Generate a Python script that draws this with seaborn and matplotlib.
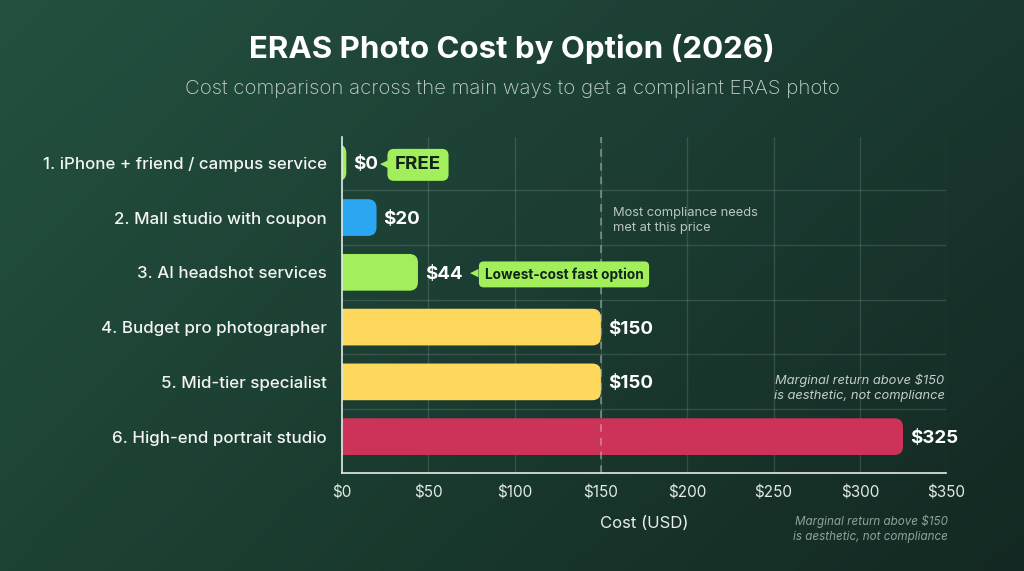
import numpy as np
import pandas as pd
import matplotlib
matplotlib.use("Agg")
import matplotlib.pyplot as plt
import seaborn as sns
from matplotlib.patches import FancyBboxPatch


# data
options = [
    "1. iPhone + friend / campus service",
    "2. Mall studio with coupon",
    "3. AI headshot services",
    "4. Budget pro photographer",
    "5. Mid-tier specialist",
    "6. High-end portrait studio",
]
costs = [0, 20, 44, 150, 150, 325]
value_labels = ["$0", "$20", "$44", "$150", "$150", "$325"]
bar_colors = ["#a3ee5b", "#2ba7f2", "#a3ee5b", "#fdd85c", "#fdd85c", "#cd3259"]
x_ticks = [0, 50, 100, 150, 200, 250, 300, 350]
x_tick_labels = ["$0", "$50", "$100", "$150", "$200", "$250", "$300", "$350"]
threshold = 150

callout_rows = [0, 2]
callout_texts = ["FREE", "Lowest-cost fast option"]

title = "ERAS Photo Cost by Option (2026)"
subtitle = "Cost comparison across the main ways to get a compliant ERAS photo"
note_threshold = "Most compliance needs\nmet at this price"
note_marginal = "Marginal return above $150\nis aesthetic, not compliance"

df = pd.DataFrame({"option": options, "cost": costs})

sns.set_theme(style="white")
plt.rcParams["font.family"] = ["Inter", "DejaVu Sans"]

fig = plt.figure(figsize=(10.24, 5.71), dpi=100)

# background gradient
bg = fig.add_axes([0, 0, 1, 1], zorder=-10)
tl = np.array([0x24, 0x51, 0x40]) / 255
tr = np.array([0x1a, 0x38, 0x30]) / 255
bl = np.array([0x1d, 0x43, 0x34]) / 255
br = np.array([0x13, 0x28, 0x22]) / 255
u = np.linspace(0, 1, 256)[None, :, None]
v = np.linspace(0, 1, 144)[:, None, None]
grad = (1 - v) * ((1 - u) * tl + u * tr) + v * ((1 - u) * bl + u * br)
bg.imshow(grad, aspect="auto", extent=[0, 1, 0, 1], interpolation="bicubic")
bg.axis("off")

ax = fig.add_axes([0.334, 0.172, 0.590, 0.588])
ax.set_facecolor("none")

sns.barplot(
    data=df, x="cost", y="option", hue="option", palette=bar_colors,
    legend=False, width=0.67, ax=ax, saturation=1,
)

ax.set_xlim(0, 350)
ax.set_ylim(5.66, -0.47)

# swap the plain bars for rounded ones
px_per_x = 604 / 350
px_per_y = 54.8
for patch in list(ax.patches):
    x0, y0 = patch.get_x(), patch.get_y()
    w, h = patch.get_width(), patch.get_height()
    color = patch.get_facecolor()
    patch.remove()
    r = 5.0
    fb = FancyBboxPatch(
        (x0 - 2 * r, y0), max(w, 2.5) + 2 * r, h,
        boxstyle=f"round,pad=0,rounding_size={r}",
        mutation_aspect=px_per_x / px_per_y,
        facecolor=color, edgecolor="none", zorder=3,
    )
    ax.add_patch(fb)

# grid
for k in range(len(options) - 1):
    ax.axhline(k + 0.5, color="#ffffff", alpha=0.13, lw=1, zorder=1)
for t in x_ticks[1:]:
    ax.axvline(t, color="#ffffff", alpha=0.13, lw=1, zorder=1)
ax.axvline(threshold, color="#c9d3ce", alpha=0.55, lw=1.1, ls=(0, (5, 4)), zorder=4)

for s in ["top", "right"]:
    ax.spines[s].set_visible(False)
for s in ["left", "bottom"]:
    ax.spines[s].set_color("#e4ece8")
    ax.spines[s].set_linewidth(1.2)
    ax.spines[s].set_zorder(5)

ax.set_xticks(x_ticks)
ax.set_xticklabels(x_tick_labels)
ax.tick_params(axis="x", colors="#e2e9e5", labelsize=11, length=0, pad=9)
ax.tick_params(axis="y", colors="#f2f5f3", labelsize=12.2, length=0, pad=11)
for lab in ax.get_yticklabels():
    lab.set_fontweight("medium")
ax.set_ylabel("")
ax.set_xlabel("Cost (USD)", color="#e8eeeb", fontsize=12, labelpad=11)

# value labels
for i, (c, lab) in enumerate(zip(costs, value_labels)):
    ax.annotate(lab, xy=(max(c, 2.5), i), xytext=(5, -1.5), textcoords="offset points",
                va="center", ha="left", color="white", fontsize=13.5,
                fontweight="bold", zorder=6)

# callouts
callout_style = [
    dict(offset=35, size=13.5, pad=0.4),
    dict(offset=48, size=9.8, pad=0.42),
]
for row, txt, st in zip(callout_rows, callout_texts, callout_style):
    c = max(costs[row], 2.5)
    ax.annotate(txt, xy=(c, row), xytext=(st["offset"], -1.5), textcoords="offset points",
                va="center", ha="left", color="#10261a", fontsize=st["size"],
                fontweight="bold", zorder=7,
                bbox=dict(boxstyle=f"round,pad={st['pad']},rounding_size=0.35",
                          fc="#a3ee5b", ec="none"))
    ax.annotate("\u25C0", xy=(c, row), xytext=(st["offset"] - 10.5, -0.5),
                textcoords="offset points", va="center", ha="left",
                color="#a3ee5b", fontsize=8, family="DejaVu Sans", zorder=7)

ax.text(threshold + 7, 1.06, note_threshold, color="#b9c6c0", fontsize=9.3,
        va="center", ha="left", linespacing=1.35, zorder=6)
ax.text(349, 4.1, note_marginal, color="#c3cec9", fontsize=9.3, style="italic",
        va="center", ha="right", linespacing=1.35, zorder=6)

fig.text(0.926, 0.0745, note_marginal, color="#8ea29a", fontsize=8.4, style="italic",
         va="center", ha="right", linespacing=1.35)

fig.text(0.5, 0.914, title, color="white", fontsize=22.5, fontweight="bold",
         ha="center", va="center")
fig.text(0.5, 0.845, subtitle, color="#c6d3cd", fontsize=14.7, fontweight="light",
         ha="center", va="center")

fig.savefig("out.png", dpi=100)
